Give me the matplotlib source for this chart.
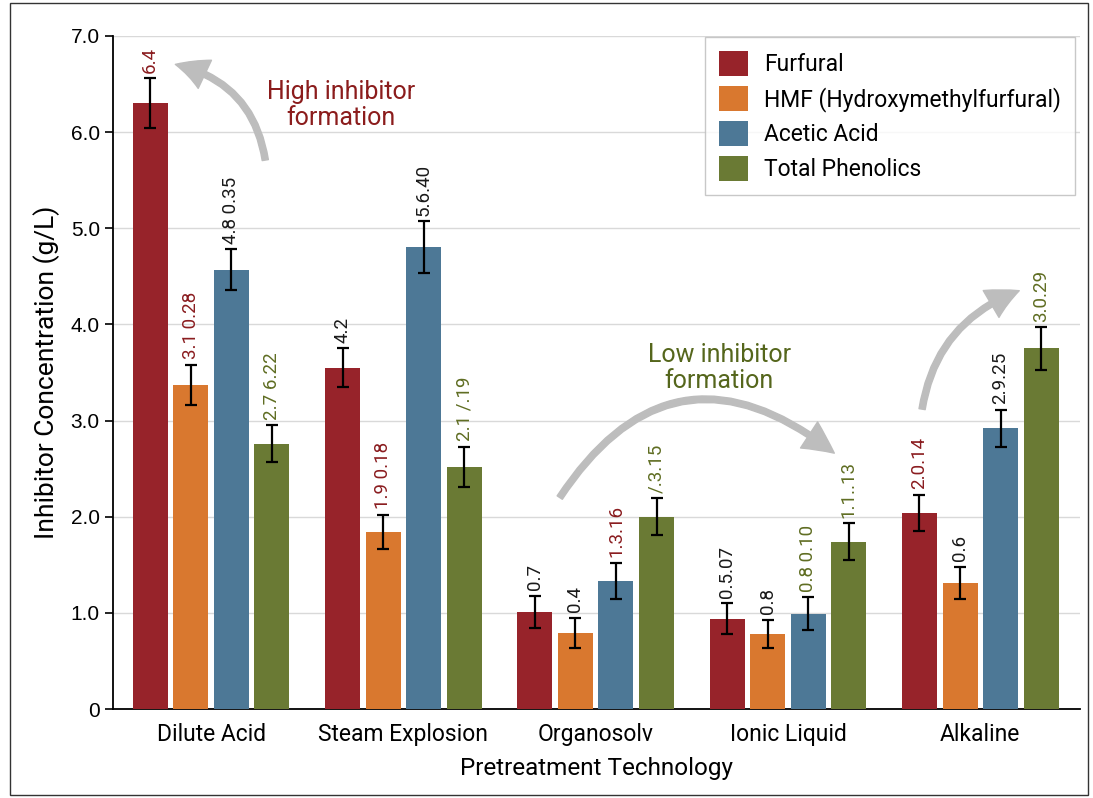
import matplotlib.pyplot as plt
import numpy as np
from matplotlib.patches import FancyArrowPatch, Rectangle

# ---------- data ----------
categories = ['Dilute Acid', 'Steam Explosion', 'Organosolv', 'Ionic Liquid', 'Alkaline']
series = ['Furfural', 'HMF (Hydroxymethylfurfural)', 'Acetic Acid', 'Total Phenolics']

furfural = [6.3, 3.55, 1.01, 0.94, 2.04]
hmf = [3.37, 1.84, 0.79, 0.78, 1.31]
acetic = [4.57, 4.8, 1.33, 0.99, 2.92]
phenolics = [2.76, 2.52, 2.0, 1.74, 3.75]

furfural_err = [0.26, 0.2, 0.17, 0.16, 0.19]
hmf_err = [0.21, 0.18, 0.16, 0.15, 0.17]
acetic_err = [0.21, 0.27, 0.19, 0.17, 0.19]
phenolics_err = [0.19, 0.21, 0.19, 0.19, 0.22]

furfural_lbl = ['6.4', '4.2', '0.7', '0.5.07', '2.0.14']
hmf_lbl = ['3.1 0.28', '1.9 0.18', '0.4', '0.8', '0.6']
acetic_lbl = ['4.8 0.35', '5.6.40', '1.3.16', '0.8 0.10', '2.9.25']
phenolics_lbl = ['2.7 6.22', '2.1 /.19', '/.3.15', '1.1..13', '3.0.29']

RED_T = '#8a1c1f'
DARK_T = '#1a1a1a'
OLIVE_T = '#5f6d22'
furfural_lc = [RED_T, DARK_T, DARK_T, DARK_T, RED_T]
hmf_lc = [RED_T, RED_T, DARK_T, DARK_T, DARK_T]
acetic_lc = [DARK_T, DARK_T, RED_T, OLIVE_T, DARK_T]
phenolics_lc = [OLIVE_T, OLIVE_T, OLIVE_T, OLIVE_T, OLIVE_T]

colors = ['#97232a', '#d9782f', '#4d7896', '#6a7a34']

plt.rcParams['font.family'] = ['Roboto', 'DejaVu Sans']

fig = plt.figure(figsize=(10.93, 7.98), dpi=100)
ax = fig.add_axes([0.1034, 0.1115, 0.885, 0.8435])

x = np.arange(len(categories))
width = 0.182
pitch = 0.211
offsets = (np.arange(4) - 1.5) * pitch

vals = [furfural, hmf, acetic, phenolics]
errs = [furfural_err, hmf_err, acetic_err, phenolics_err]
lbls = [furfural_lbl, hmf_lbl, acetic_lbl, phenolics_lbl]
lcols = [furfural_lc, hmf_lc, acetic_lc, phenolics_lc]

for k in range(4):
    ax.bar(x + offsets[k], vals[k], width, color=colors[k], label=series[k],
           yerr=errs[k], capsize=4, zorder=3,
           error_kw=dict(ecolor='black', elinewidth=1.6, capthick=1.6))
    for i in range(len(categories)):
        ax.annotate(lbls[k][i], (x[i] + offsets[k], vals[k][i] + errs[k][i]),
                    xytext=(0, 4), textcoords='offset points', rotation=90,
                    ha='center', va='bottom', fontsize=13.5, color=lcols[k][i])

ax.set_xlim(-0.51, 4.52)
ax.set_ylim(0, 7.0)
ax.set_yticks(np.arange(0, 8))
ax.set_yticklabels(['0', '1.0', '2.0', '3.0', '4.0', '5.0', '6.0', '7.0'],
                   fontfamily='Liberation Sans', fontsize=15)
ax.set_xticks(x)
ax.set_xticklabels(categories, fontsize=16.5)
ax.tick_params(axis='x', length=0, pad=10)
ax.tick_params(axis='y', length=6, width=1.2)
ax.grid(axis='y', color='#d9d9d9', linewidth=1, zorder=0)
for s in ['top', 'right']:
    ax.spines[s].set_visible(False)
ax.spines['left'].set_linewidth(1.3)
ax.spines['bottom'].set_linewidth(1.3)

ax.set_ylabel('Inhibitor Concentration (g/L)', fontsize=19, labelpad=8)
ax.set_xlabel('Pretreatment Technology', fontsize=17.5, labelpad=8)

ax.legend(loc='upper right', bbox_to_anchor=(1.006, 1.015), fontsize=16.5,
          frameon=True, fancybox=False, edgecolor='#bbbbbb',
          handlelength=1.25, handleheight=1.3, handletextpad=0.7,
          labelspacing=0.42, borderpad=0.6)

# annotations
ax.text(0.674, 6.285, 'High inhibitor\nformation', color='#8b1c1c',
        fontsize=18, ha='center', va='center', linespacing=1.1)
ax.text(2.643, 3.55, 'Low inhibitor\nformation', color='#55661c',
        fontsize=18, ha='center', va='center', linespacing=1.1)

arrow_kw = dict(arrowstyle='simple,head_length=1.4,head_width=1.4,tail_width=0.28',
                color='#bdbdbd', mutation_scale=16, zorder=4)
ax.add_patch(FancyArrowPatch((0.284, 5.68), (-0.2, 6.71),
                             connectionstyle='arc3,rad=0.35', **arrow_kw))
ax.add_patch(FancyArrowPatch((1.805, 2.175), (3.252, 2.643),
                             connectionstyle='arc3,rad=-0.55', **arrow_kw))
ax.add_patch(FancyArrowPatch((3.695, 3.09), (4.216, 4.36),
                             connectionstyle='arc3,rad=-0.3', **arrow_kw))

fig.patches.append(Rectangle((10 / 1093, 3 / 798), 1078 / 1093, 792 / 798,
                             transform=fig.transFigure, fill=False,
                             edgecolor='#333333', linewidth=1))

fig.savefig('out.png', dpi=100)
